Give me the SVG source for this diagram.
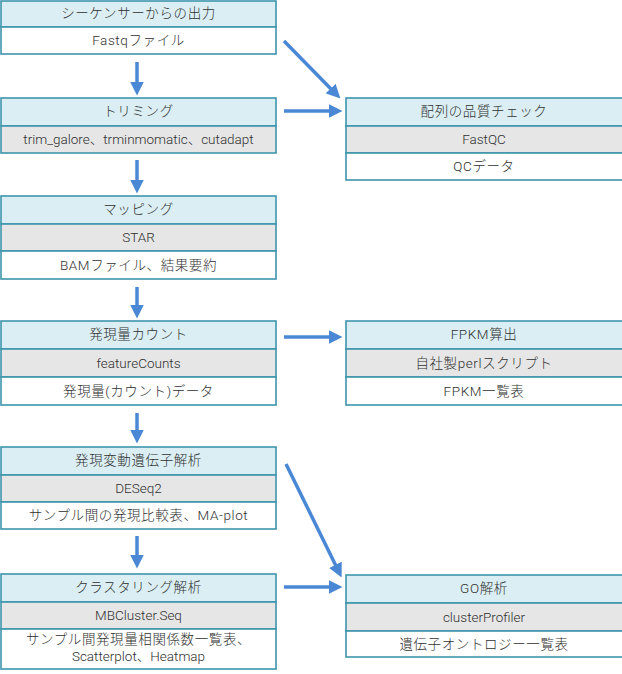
<svg xmlns="http://www.w3.org/2000/svg" width="622" height="674" viewBox="0 0 622 674">
  <style>
    .hd { fill: #DAEEF3; stroke: #3F94AC; stroke-width: 1.6; }
    .tl { fill: #E6E6E6; stroke: #3F94AC; stroke-width: 1.6; }
    .ot { fill: #FFFFFF; stroke: #3F94AC; stroke-width: 1.6; }
    text { font-family: Roboto, "Liberation Sans", "Noto Sans CJK JP", sans-serif; font-size: 13.5px; font-weight: 300; fill: #303030; text-anchor: middle; }
    text.j { letter-spacing: 0.6px; }
    .cn line { stroke: #4A88D6; stroke-width: 3.5; }
  </style>
  <defs>
    <marker id="ah" markerUnits="userSpaceOnUse" markerWidth="14" markerHeight="14" viewBox="0 0 12 12" refX="3" refY="6" orient="auto">
      <path d="M0,0 L12,6 L0,12 z" fill="#4A88D6"/>
    </marker>
  </defs>
  <rect width="622" height="674" fill="#FFFFFF"/>

  <!-- left column -->
  <g id="n-output">
    <rect class="hd" x="1" y="1" width="275" height="26"/>
    <rect class="ot" x="1" y="27" width="275" height="27"/>
    <text class="j" x="138.5" y="18">シーケンサーからの出力</text>
    <text class="j" x="138.5" y="45">Fastqファイル</text>
  </g>
  <g id="n-trim">
    <rect class="hd" x="1" y="98" width="275" height="28"/>
    <rect class="tl" x="1" y="126" width="275" height="27"/>
    <text class="j" x="138.5" y="116">トリミング</text>
    <text x="138.5" y="144">trim_galore、trminmomatic、cutadapt</text>
  </g>
  <g id="n-map">
    <rect class="hd" x="1" y="196" width="275" height="28"/>
    <rect class="tl" x="1" y="224" width="275" height="27"/>
    <rect class="ot" x="1" y="251" width="275" height="28"/>
    <text class="j" x="138.5" y="214">マッピング</text>
    <text x="138.5" y="242">STAR</text>
    <text class="j" x="138.5" y="270">BAMファイル、結果要約</text>
  </g>
  <g id="n-count">
    <rect class="hd" x="1" y="321" width="275" height="28"/>
    <rect class="tl" x="1" y="349" width="275" height="28"/>
    <rect class="ot" x="1" y="377" width="275" height="28"/>
    <text class="j" x="138.5" y="339">発現量カウント</text>
    <text x="138.5" y="368">featureCounts</text>
    <text class="j" x="138.5" y="396">発現量(カウント)データ</text>
  </g>
  <g id="n-deg">
    <rect class="hd" x="1" y="447" width="275" height="28"/>
    <rect class="tl" x="1" y="475" width="275" height="27"/>
    <rect class="ot" x="1" y="502" width="275" height="27"/>
    <text class="j" x="138.5" y="465">発現変動遺伝子解析</text>
    <text x="138.5" y="493">DESeq2</text>
    <text class="j" x="138.5" y="520">サンプル間の発現比較表、MA-plot</text>
  </g>
  <g id="n-cluster">
    <rect class="hd" x="1" y="574" width="275" height="28"/>
    <rect class="tl" x="1" y="602" width="275" height="27"/>
    <rect class="ot" x="1" y="629" width="275" height="40"/>
    <text class="j" x="138.5" y="592">クラスタリング解析</text>
    <text x="138.5" y="620">MBCluster.Seq</text>
    <text class="j" x="138.5" y="644">サンプル間発現量相関係数一覧表、</text>
    <text x="138.5" y="661">Scatterplot、Heatmap</text>
  </g>

  <!-- right column -->
  <g id="n-qc">
    <rect class="hd" x="346" y="98" width="280" height="28"/>
    <rect class="tl" x="346" y="126" width="280" height="27"/>
    <rect class="ot" x="346" y="153" width="280" height="27"/>
    <text class="j" x="484" y="116">配列の品質チェック</text>
    <text x="484" y="144">FastQC</text>
    <text class="j" x="484" y="171">QCデータ</text>
  </g>
  <g id="n-fpkm">
    <rect class="hd" x="346" y="321" width="280" height="28"/>
    <rect class="tl" x="346" y="349" width="280" height="28"/>
    <rect class="ot" x="346" y="377" width="280" height="28"/>
    <text class="j" x="484" y="339">FPKM算出</text>
    <text class="j" x="484" y="368">自社製perlスクリプト</text>
    <text class="j" x="484" y="396">FPKM一覧表</text>
  </g>
  <g id="n-go">
    <rect class="hd" x="346" y="575" width="280" height="28"/>
    <rect class="tl" x="346" y="603" width="280" height="28"/>
    <rect class="ot" x="346" y="631" width="280" height="26"/>
    <text class="j" x="484" y="593">GO解析</text>
    <text x="484" y="622">clusterProfiler</text>
    <text class="j" x="484" y="649">遺伝子オントロジー一覧表</text>
  </g>

  <!-- connectors -->
  <g class="cn">
    <line x1="137" y1="62" x2="137" y2="85" marker-end="url(#ah)"/>
    <line x1="137" y1="160" x2="137" y2="183" marker-end="url(#ah)"/>
    <line x1="137" y1="287" x2="137" y2="308" marker-end="url(#ah)"/>
    <line x1="137" y1="413" x2="137" y2="433" marker-end="url(#ah)"/>
    <line x1="137" y1="536" x2="137" y2="558" marker-end="url(#ah)"/>
    <line x1="284" y1="111" x2="332" y2="111" marker-end="url(#ah)"/>
    <line x1="284" y1="337" x2="332" y2="337" marker-end="url(#ah)"/>
    <line x1="284" y1="587" x2="332" y2="587" marker-end="url(#ah)"/>
    <line x1="284" y1="41" x2="333" y2="91" marker-end="url(#ah)"/>
    <line x1="286" y1="464" x2="337" y2="568" marker-end="url(#ah)"/>
  </g>
</svg>
